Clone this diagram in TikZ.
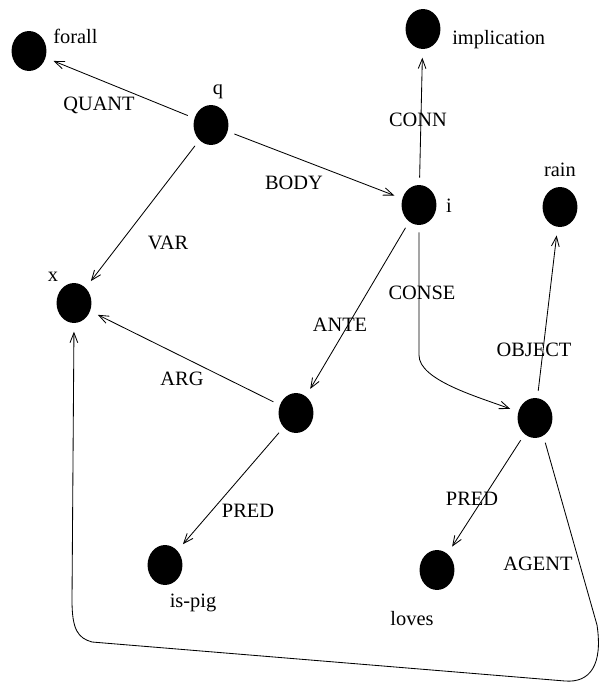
\documentclass[tikz,border=0pt]{standalone}
\usepackage{fontspec}
\setmainfont{Liberation Serif}
\usetikzlibrary{shapes.geometric,arrows.meta}
\tikzset{
  vtx/.style={ellipse, fill=black, inner sep=0pt, minimum width=24.8pt, minimum height=28.4pt},
  txt/.style={inner sep=0pt, font=\fontsize{14.5}{17}\selectfont},
  arr/.style={-{Straight Barb[length=7pt,width=5.5pt]}, line width=0.6pt, shorten <=5pt, shorten >=6pt},
}

\begin{document}
\begin{tikzpicture}[x=0.025cm, y=0.025cm]
  \useasboundingbox (0,0) rectangle (605,-684);
  % vertices
  \node[vtx] (forall) at (29,-51) {};
  \node[vtx] (q) at (211,-125) {};
  \node[vtx] (impl) at (423,-29) {};
  \node[vtx] (i) at (419,-205) {};
  \node[vtx] (rain) at (560,-207) {};
  \node[vtx] (x) at (74,-303) {};
  \node[vtx] (ante) at (296,-413) {};
  \node[vtx] (conse) at (535,-418) {};
  \node[vtx] (ispig) at (165,-565) {};
  \node[vtx] (loves) at (437,-570) {};
  % vertex names
  \node[txt, anchor=west] (nforall) at (53,-36) {forall};
  \node[txt] (nq) at (218,-92) {q};
  \node[txt, anchor=west] (nimpl) at (452,-40) {implication};
  \node[txt] (ni) at (449,-206) {i};
  \node[txt] (nrain) at (560,-170) {rain};
  \node[txt] (nx) at (53,-277) {x};
  \node[txt] (nispig) at (193,-603) {is-pig};
  \node[txt] (nloves) at (412,-619) {loves};
  % arc labels
  \node[txt] (lquant) at (99,-105) {QUANT};
  \node[txt] (lvar) at (168,-243) {VAR};
  \node[txt] (lbody) at (294,-183) {BODY};
  \node[txt] (lconn) at (418,-120) {CONN};
  \node[txt] (lconse) at (422,-293) {CONSE};
  \node[txt] (lante) at (340,-325) {ANTE};
  \node[txt] (lobject) at (534,-350) {OBJECT};
  \node[txt] (larg) at (182,-379) {ARG};
  \node[txt] (lpreda) at (248,-511) {PRED};
  \node[txt] (lpredb) at (472,-499) {PRED};
  \node[txt] (lagent) at (538,-564) {AGENT};
  % bends of the long arcs
  \coordinate (agR) at (597,-625);
  \coordinate (agB) at (565,-681);
  \coordinate (agL) at (92,-642);
  \coordinate (agU) at (72,-600);
  % arcs
  \draw[arr] (q) -- (forall);
  \draw[arr] (q) -- (i);
  \draw[arr] (q) -- (x);
  \draw[arr] (i) -- (impl);
  \draw[arr] (i) -- (ante);
  \draw[arr] (i.south) -- ++(0,-130) .. controls +(0,-25) and +(-40,15) .. (conse.160);
  \draw[arr] (ante) -- (x);
  \draw[arr] (ante) -- (ispig);
  \draw[arr] (conse) -- (rain);
  \draw[arr] (conse) -- (loves);
  \draw[arr] (conse.-65) -- (agR) .. controls +(6,-40) and +(25,-2) .. (agB)
    -- (agL) .. controls +(-14,4) and +(0,-30) .. (agU) -- (x.south);
\end{tikzpicture}
\end{document}
